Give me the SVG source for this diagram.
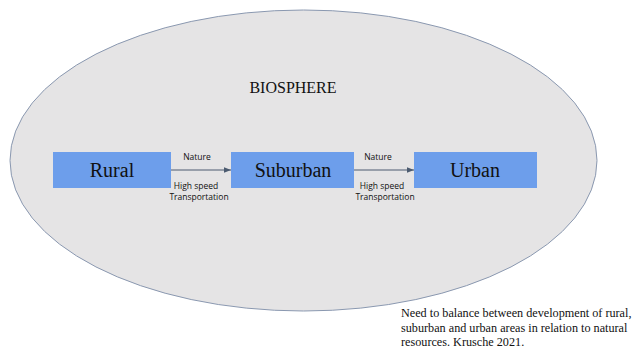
<svg xmlns="http://www.w3.org/2000/svg" width="636" height="350" viewBox="0 0 636 350">
<defs>
<style>
.box{fill:#6d9eeb;}
.lbl{font-family:"Liberation Serif",serif;font-size:20px;fill:#111;text-anchor:middle;}
.sm{font-family:"Open Sans","Liberation Sans",sans-serif;font-size:8.5px;fill:#111;text-anchor:middle;}
.note{font-family:"Liberation Serif",serif;font-size:12.2px;fill:#111;}
.conn{stroke:#4c5b70;stroke-width:1;fill:none;}
</style>
<marker id="ah" viewBox="0 0 10 10" refX="10" refY="5" markerWidth="7" markerHeight="7" orient="auto" markerUnits="userSpaceOnUse">
<path d="M0,1 L10,5 L0,9 z" fill="#4c5b70"/>
</marker>
</defs>
<rect width="636" height="350" fill="#fff"/>
<g id="biosphere">
<ellipse cx="303.5" cy="160.5" rx="293.5" ry="150.5" fill="#e5e4e5" stroke="#8a98b0" stroke-width="1"/>
<text x="293" y="93" style="font-family:'Liberation Serif',serif;font-size:16px;fill:#111;text-anchor:middle;">BIOSPHERE</text>
</g>
<g id="connectors">
<line class="conn" x1="171" y1="170" x2="231" y2="170" marker-end="url(#ah)"/>
<line class="conn" x1="354" y1="170" x2="414" y2="170" marker-end="url(#ah)"/>
<text class="sm" x="197" y="160">Nature</text>
<text class="sm" x="196" y="189">High speed</text>
<text class="sm" x="199" y="200">Transportation</text>
<text class="sm" x="378" y="160">Nature</text>
<text class="sm" x="382" y="189">High speed</text>
<text class="sm" x="385" y="200">Transportation</text>
</g>
<g id="rural">
<rect class="box" x="53" y="152" width="118" height="36"/>
<text class="lbl" x="112" y="177">Rural</text>
</g>
<g id="suburban">
<rect class="box" x="231" y="152" width="123" height="36"/>
<text class="lbl" x="293" y="177">Suburban</text>
</g>
<g id="urban">
<rect class="box" x="414" y="152" width="123" height="36"/>
<text class="lbl" x="475" y="177">Urban</text>
</g>
<g id="note">
<text class="note" x="401" y="317">Need to balance between development of rural,</text>
<text class="note" x="401" y="332">suburban and urban areas in relation to natural</text>
<text class="note" x="401" y="346">resources. Krusche 2021.</text>
</g>
</svg>
